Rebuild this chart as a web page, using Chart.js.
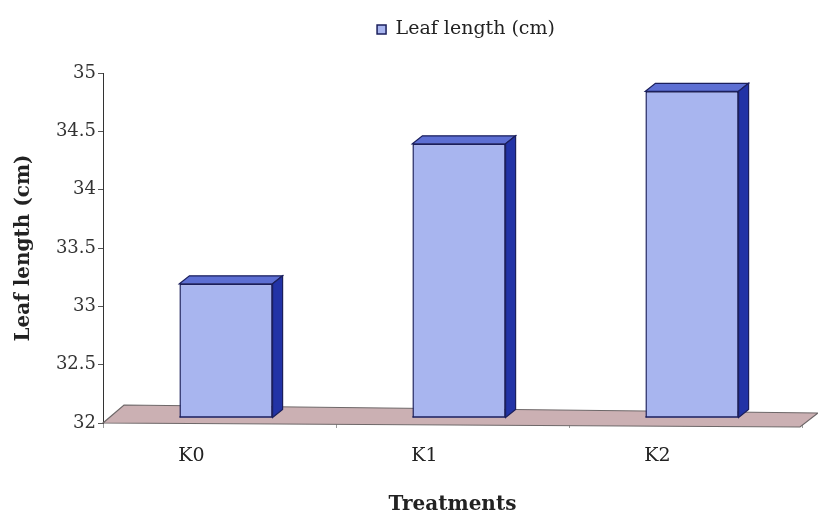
<!DOCTYPE html>
<html>
<head>
<meta charset="utf-8">
<script src="https://cdn.jsdelivr.net/npm/chart.js@4/dist/chart.umd.min.js"></script>
<style>
body{margin:0;background:#fff;}
</style>
</head>
<body>
<canvas id="myChart" width="818" height="517"></canvas>
<script>
// data
var treatments = ['K0', 'K1', 'K2'];
var leafLength = [33.15, 34.35, 34.8];
var yTicks = [32, 32.5, 33, 33.5, 34, 34.5, 35];

var serif = "'DejaVu Serif', 'Liberation Serif', serif";
var DX = 10, DY = 8;      // depth of bars
var SX = 6.5, SY = -5;    // bars stand inside the floor

// floor + top/side faces of the bars
var bar3d = {
	id: 'bar3d',
	afterLayout: function(chart){
		//legend a bit right and up
		chart.legend.left += 65;
		chart.legend.right += 65;
		chart.legend.top -= 24;
		chart.legend.bottom -= 24;
	},
	beforeDatasetsDraw: function(chart){
		var ctx = chart.ctx, a = chart.chartArea;
		ctx.save();
		ctx.beginPath();
		ctx.moveTo(a.left, a.bottom);
		ctx.lineTo(a.right - 2, a.bottom + 4);
		ctx.lineTo(a.right + 16, a.bottom - 10);
		ctx.lineTo(a.left + 21, a.bottom - 18);
		ctx.closePath();
		ctx.fillStyle = '#cbb0b3';
		ctx.fill();
		ctx.strokeStyle = '#6e6869';
		ctx.lineWidth = 1.2;
		ctx.stroke();
		ctx.restore();
		ctx.save();
		ctx.translate(SX, SY);
	},
	afterDatasetsDraw: function(chart){
		var ctx = chart.ctx;
		chart.getDatasetMeta(0).data.forEach(function(bar){
			var l = bar.x - bar.width / 2, r = bar.x + bar.width / 2, t = bar.y, b = bar.base;
			ctx.lineWidth = 1.2;
			ctx.strokeStyle = '#1b1f5c';
			//top
			ctx.beginPath();
			ctx.moveTo(l, t); ctx.lineTo(l + DX, t - DY); ctx.lineTo(r + DX, t - DY); ctx.lineTo(r, t);
			ctx.closePath();
			ctx.fillStyle = '#5d6fd3';
			ctx.fill(); ctx.stroke();
			//side
			ctx.beginPath();
			ctx.moveTo(r, t); ctx.lineTo(r + DX, t - DY); ctx.lineTo(r + DX, b - DY); ctx.lineTo(r, b);
			ctx.closePath();
			ctx.fillStyle = '#2233a6';
			ctx.fill(); ctx.stroke();
			//bottom edge of front face
			ctx.beginPath();
			ctx.moveTo(l, b - 0.5); ctx.lineTo(r, b - 0.5);
			ctx.lineWidth = 1.5;
			ctx.stroke();
		});
		ctx.restore();
	}
};

var ctx = document.getElementById('myChart');
var chart = new Chart(ctx, {
	type: 'bar',
	data: {
		labels: treatments,
		datasets: [{
			label: 'Leaf length (cm)',
			data: leafLength,
			base: yTicks[0],
			backgroundColor: '#a8b5ef',
			borderColor: '#1b1f5c',
			borderWidth: 1.5,
			categoryPercentage: 1,
			barPercentage: 0.4
		}]
	},
	options: {
		responsive: false,
		animation: false,
		layout: { padding: { top: 30, right: 16, left: 0, bottom: 0 } },
		plugins: {
			legend: {
				display: true,
				position: 'top',
				labels: {
					boxWidth: 9,
					boxHeight: 9,
					color: '#222',
					font: { family: serif, size: 19 },
					padding: 14
				}
			},
			tooltip: { enabled: false }
		},
		scales: {
			x: {
				afterFit: function(scale){ scale.height = 94; },
				border: { display: false },
				grid: { display: true, drawOnChartArea: false, offset: true, tickLength: 5, color: '#999' },
				ticks: {
					color: '#222',
					font: { family: serif, size: 19 },
					labelOffset: -28,
					padding: 17
				},
				title: {
					display: true,
					text: 'Treatments',
					color: '#222',
					font: { family: serif, size: 20, weight: 'bold' },
					padding: { top: 0, bottom: 0 }
				}
			},
			y: {
				min: yTicks[0],
				max: yTicks[yTicks.length - 1],
				afterFit: function(scale){ scale.width = 103; },
				afterBuildTicks: function(axis){
					axis.ticks = yTicks.map(function(v){ return { value: v }; });
				},
				border: { display: true, color: '#333', width: 1 },
				grid: { display: true, drawOnChartArea: false, tickLength: 5, color: '#555' },
				ticks: {
					color: '#333',
					font: { family: serif, size: 18 },
					padding: 2,
					callback: function(value){ return String(value); }
				},
				title: {
					display: true,
					text: 'Leaf length (cm)',
					color: '#222',
					font: { family: serif, size: 20, weight: 'bold' },
					padding: { top: 12, bottom: 0 }
				}
			}
		}
	},
	plugins: [bar3d]
});
</script>
</body>
</html>
